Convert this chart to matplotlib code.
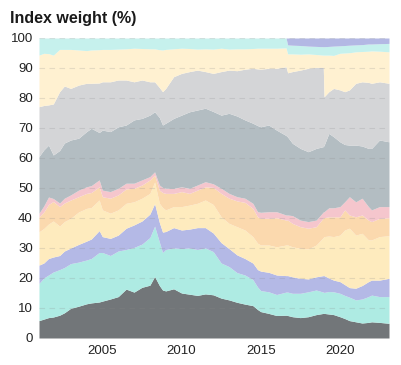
import matplotlib
matplotlib.use("Agg")
import matplotlib.pyplot as plt
import numpy as np

# decimal years
years = [2001.0, 2001.3, 2001.6, 2001.9, 2002.3, 2002.6, 2003.0, 2003.5, 2004.0, 2004.3,
         2004.8, 2005.0, 2005.5, 2006.0, 2006.5, 2007.0, 2007.5, 2008.0, 2008.3, 2008.6,
         2008.8, 2009.0, 2009.5, 2010.0, 2010.5, 2011.0, 2011.5, 2012.0, 2012.5, 2013.0,
         2013.5, 2014.0, 2014.5, 2014.8, 2015.0, 2015.5, 2016.0, 2016.6, 2016.7, 2017.0,
         2017.5, 2018.0, 2018.5, 2018.95, 2019.0, 2019.3, 2019.6, 2020.0, 2020.3, 2020.6,
         2021.0, 2021.4, 2021.8, 2022.0, 2022.5, 2023.1]

# cumulative index weight (%) at the top of each band, bottom band first
top_dark = [5.8, 6.3, 6.8, 7.0, 7.6, 8.4, 9.9, 10.6, 11.4, 11.7,
            12.0, 12.3, 13.0, 13.8, 16.3, 15.3, 16.9, 17.6, 20.5, 17.5,
            16.0, 15.7, 16.4, 15.0, 14.6, 14.2, 14.7, 14.4, 13.3, 12.7,
            11.9, 11.3, 10.8, 9.5, 8.8, 8.2, 7.5, 7.6, 7.5, 7.1,
            6.8, 7.1, 7.8, 8.2, 8.2, 8.0, 7.8, 7.1, 6.5, 5.8,
            5.4, 5.0, 5.2, 5.4, 5.2, 4.9]
top_teal = [18.2, 20.0, 21.0, 22.0, 22.8, 23.5, 24.8, 25.3, 26.0, 26.5,
            28.5, 28.5, 27.5, 29.0, 29.5, 30.2, 31.3, 33.5, 37.3, 32.0,
            28.5, 29.5, 30.0, 29.8, 30.0, 29.5, 30.0, 28.8, 25.0, 23.8,
            21.8, 21.0, 19.5, 17.0, 15.8, 15.4, 14.5, 15.3, 15.3, 14.9,
            14.9, 15.4, 16.0, 15.3, 15.2, 15.5, 15.4, 14.9, 14.2, 13.6,
            12.7, 13.0, 13.8, 14.3, 13.8, 13.8]
top_lavender = [24.3, 25.0, 26.5, 27.0, 27.5, 29.0, 30.0, 31.2, 32.3, 33.0,
                35.8, 33.8, 33.2, 34.3, 36.6, 37.7, 39.0, 41.3, 44.8, 38.5,
                35.3, 35.5, 36.8, 36.0, 36.3, 36.8, 36.8, 35.0, 31.8, 29.8,
                27.7, 26.5, 25.0, 22.8, 22.3, 21.9, 21.0, 20.8, 20.8, 20.4,
                19.9, 19.7, 20.4, 20.8, 20.8, 20.0, 19.3, 18.8, 17.8, 16.8,
                16.6, 17.5, 18.8, 19.3, 19.3, 19.9]
top_yellow = [35.4, 36.5, 38.0, 39.0, 37.3, 38.8, 39.9, 42.0, 43.2, 43.5,
              46.0, 42.7, 41.6, 42.7, 44.9, 45.4, 46.6, 48.2, 52.0, 44.9,
              43.5, 42.7, 43.8, 43.8, 44.3, 44.9, 46.0, 44.5, 40.4, 38.2,
              37.1, 36.0, 33.8, 31.6, 31.0, 31.0, 30.4, 31.0, 31.0, 30.4,
              29.9, 29.7, 31.0, 33.5, 33.8, 34.0, 33.8, 34.3, 36.0, 36.6,
              34.3, 34.9, 32.7, 32.7, 33.8, 34.1]
top_peach = [40.4, 42.0, 44.5, 45.5, 43.8, 45.0, 46.0, 47.1, 48.2, 48.5,
             50.4, 47.1, 46.6, 47.7, 49.7, 49.9, 51.0, 52.7, 54.3, 49.3,
             48.5, 48.2, 48.2, 48.8, 48.2, 49.3, 50.4, 50.2, 48.2, 46.6,
             45.7, 45.2, 43.2, 40.4, 39.9, 39.9, 40.1, 39.3, 39.3, 38.2,
             37.1, 36.6, 37.1, 40.0, 40.1, 40.4, 40.4, 40.4, 42.7, 41.0,
             40.4, 41.0, 39.3, 38.8, 39.9, 40.1]
top_pink = [41.6, 44.0, 47.0, 46.5, 45.0, 46.6, 47.7, 49.3, 50.4, 50.8,
            52.7, 49.3, 48.8, 49.9, 51.6, 51.6, 52.7, 53.8, 55.4, 51.0,
            50.2, 49.9, 49.9, 50.4, 49.9, 51.0, 52.1, 51.4, 49.9, 48.2,
            47.1, 46.6, 44.9, 42.1, 41.9, 42.1, 42.1, 41.0, 41.0, 40.8,
            39.3, 38.8, 39.3, 42.0, 42.1, 43.4, 43.4, 43.8, 45.4, 47.1,
            45.4, 46.6, 43.8, 42.7, 43.8, 43.8]
top_slate = [60.5, 62.7, 64.3, 61.0, 62.5, 65.0, 66.0, 66.6, 68.8, 69.9,
             68.5, 69.3, 68.8, 70.4, 71.0, 72.7, 73.2, 74.3, 75.4, 73.5,
             71.0, 71.6, 73.2, 74.3, 75.4, 76.0, 76.6, 75.5, 74.3, 74.9,
             74.0, 72.7, 71.6, 70.8, 70.4, 71.0, 69.3, 67.5, 67.0, 64.9,
             63.2, 62.1, 63.2, 63.8, 64.2, 68.2, 67.1, 65.4, 64.5, 64.3,
             64.3, 64.0, 63.2, 63.2, 66.0, 65.4]
top_grey = [77.1, 77.5, 77.7, 78.0, 82.1, 84.0, 83.2, 84.3, 84.9, 84.9,
            85.0, 85.4, 85.4, 86.0, 86.0, 85.4, 86.0, 85.4, 85.4, 83.5,
            82.1, 83.2, 87.1, 88.2, 88.8, 89.3, 88.8, 88.2, 88.8, 89.3,
            89.1, 89.6, 89.9, 89.7, 89.6, 89.9, 89.9, 90.4, 88.4, 88.8,
            89.3, 89.9, 90.2, 90.2, 80.4, 82.1, 83.2, 82.7, 82.1, 82.7,
            84.9, 85.4, 85.2, 84.9, 85.4, 84.9]
top_cream = [94.3, 94.9, 94.8, 94.3, 96.2, 96.2, 96.2, 96.0, 95.8, 96.0,
             96.1, 96.2, 96.2, 96.3, 96.4, 96.6, 96.5, 96.4, 96.4, 96.1,
             96.0, 96.2, 96.4, 96.6, 96.5, 96.3, 96.4, 96.3, 96.6, 96.3,
             96.4, 96.4, 96.5, 96.6, 96.6, 96.6, 96.6, 96.7, 94.7, 94.7,
             94.6, 94.7, 94.5, 94.3, 94.3, 94.3, 94.2, 94.9, 95.0, 95.1,
             95.4, 95.5, 95.6, 95.7, 95.6, 95.4]
top_cyan = [100.0] * 38 + [97.7, 97.6, 97.5, 97.3, 97.2, 97.1, 97.1, 97.2, 97.3, 97.4,
                           97.5, 97.6, 97.7, 97.8, 98.0, 98.0, 98.1, 98.2]
top_violet = [100.0] * 56

edges = [top_dark, top_teal, top_lavender, top_yellow, top_peach, top_pink,
         top_slate, top_grey, top_cream, top_cyan, top_violet]
colors = ["#727679", "#aeebe3", "#b4b9e6", "#feebbe", "#fbd9ae", "#f5c6cd",
          "#b3bdc2", "#d4d5d7", "#fff1d1", "#c6f1ed", "#b3b8e4"]

plt.rcParams['font.family'] = ['Liberation Sans', 'DejaVu Sans']

fig = plt.figure(figsize=(4.01, 3.65), dpi=100)
ax = fig.add_axes([39 / 401, 1 - 338 / 365, 350 / 401, 300 / 365])

x = np.array(years)
lower = np.zeros(len(years))
for edge, col in zip(edges, colors):
    upper = np.array(edge)
    ax.fill_between(x, lower, upper, color=col, linewidth=0, zorder=1)
    lower = upper

# dashed horizontal grid drawn over the areas
for v in range(0, 101, 10):
    ax.axhline(v, color="#8a8a8a", alpha=0.22, linestyle=(0, (5, 4)), linewidth=0.8, zorder=2)

ax.set_xlim(2001.0, 2023.1)
ax.set_ylim(0, 100)
ax.set_yticks(range(0, 101, 10))
ax.set_xticks([2005, 2010, 2015, 2020])
ax.tick_params(length=0, labelsize=9.5, labelcolor="#222222")
ax.tick_params(axis="y", pad=4.5)
ax.tick_params(axis="x", pad=5)
for s in ax.spines.values():
    s.set_visible(False)

fig.text(10 / 401, 1 - 18 / 365, "Index weight (%)", fontsize=11.5, fontweight="bold",
         color="#1a1a1a", ha="left", va="center")

fig.savefig("out.png", dpi=100)
